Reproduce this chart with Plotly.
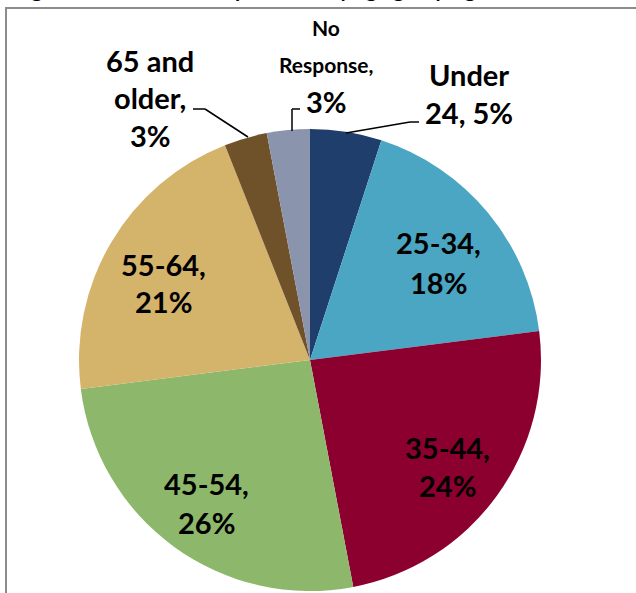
import plotly.graph_objects as go

# Survey respondents by age group (percent)
categories = ["Under 24", "25-34", "35-44", "45-54", "55-64", "65 and older", "No Response"]
values = [5, 18, 24, 26, 21, 3, 3]
colors = ["#1F3E6C", "#4BA6C3", "#8C0030", "#8DB86B", "#D4B36B", "#6F5229", "#8A94AC"]

# words per line when each "category, value%" label is wrapped
line_groups = [[1, 2], [1, 1], [1, 1], [1, 1], [1, 1], [2, 1, 1], [1, 1, 1]]

W, H = 636, 593


def px(x):
    return x / W


def py(y):
    return 1 - y / H


# pie geometry in pixels
cx, cy, r = 310, 360, 231

fig = go.Figure(
    go.Pie(
        labels=categories,
        values=values,
        sort=False,
        direction="clockwise",
        rotation=0,
        marker=dict(colors=colors, line=dict(width=0)),
        textinfo="none",
        hoverinfo="skip",
        showlegend=False,
        domain=dict(x=[px(cx - r), px(cx + r)], y=[py(cy + r), py(cy - r)]),
    )
)

FONT = "Lato"
BIG = 29
SMALL = 21

# label placement: (centre x, first line centre y, line step, per-line sizes)
placement = [
    (469, 74, 38, [BIG, BIG]),
    (438, 243, 39, [BIG, BIG]),
    (447, 447, 39, [BIG, BIG]),
    (206, 483, 39, [BIG, BIG]),
    (163, 264, 38, [BIG, BIG]),
    (150, 60, 38, [BIG, BIG, BIG]),
    (326, 28, 37, [SMALL, SMALL, BIG]),
]

annotations = []
for cat, val, groups, (lx, ly, step, sizes) in zip(categories, values, line_groups, placement):
    words = f"{cat}, {val}%".split(" ")
    lines, i = [], 0
    for g in groups:
        lines.append(" ".join(words[i:i + g]))
        i += g
    for k, (txt, fs) in enumerate(zip(lines, sizes)):
        annotations.append(
            dict(
                x=px(lx), y=py(ly + k * step), xref="paper", yref="paper",
                text=f"<b>{txt}</b>", showarrow=False,
                xanchor="center", yanchor="middle",
                font=dict(family=FONT, size=fs, color="#000000"),
            )
        )

# figure caption running off the top edge
annotations.append(
    dict(
        x=px(12), y=py(2.5), xref="paper", yref="paper",
        text="<b>Figure 4: Percent of Respondents by age grouping</b>",
        showarrow=False, xanchor="left", yanchor="bottom",
        font=dict(family=FONT, size=21, color="#000000"),
    )
)

shapes = []


def seg(x0, y0, x1, y1):
    shapes.append(
        dict(type="line", xref="paper", yref="paper",
             x0=px(x0), y0=py(y0), x1=px(x1), y1=py(y1),
             line=dict(color="#000000", width=1.5))
    )


# leader lines for the small outside labels
seg(346, 133, 410, 122)
seg(410, 122, 419, 122)
seg(292, 131, 292, 109)
seg(292, 109, 300, 109)
seg(193, 109, 205, 109)
seg(205, 109, 248, 137)

# frame around the chart
shapes.append(
    dict(type="rect", xref="paper", yref="paper",
         x0=px(6), y0=-0.05, x1=1.05, y1=py(8),
         line=dict(color="#8C8C8C", width=2), fillcolor="rgba(0,0,0,0)")
)

fig.update_layout(
    width=W, height=H,
    margin=dict(l=0, r=0, t=0, b=0),
    paper_bgcolor="#FFFFFF",
    plot_bgcolor="#FFFFFF",
    annotations=annotations,
    shapes=shapes,
)

fig.write_html("out.html")
